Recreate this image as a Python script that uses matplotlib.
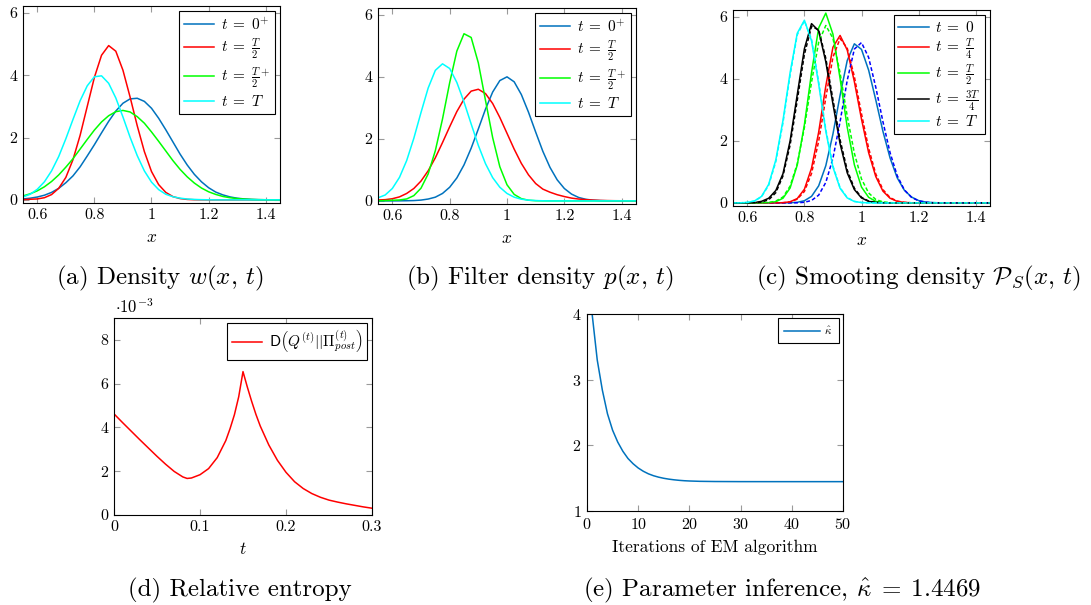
import matplotlib
matplotlib.use("Agg")
import matplotlib.pyplot as plt

plt.rcParams.update({
    "font.family": "serif",
    "font.serif": ["cmr10"],
    "mathtext.fontset": "cm",
    "axes.formatter.use_mathtext": True,
    "axes.unicode_minus": False,
})

# ------------------------------------------------------------------
# data
# ------------------------------------------------------------------
x_grid = [0.550, 0.575, 0.600, 0.625, 0.650, 0.675, 0.700, 0.725, 0.750, 0.775,
          0.800, 0.825, 0.850, 0.875, 0.900, 0.925, 0.950, 0.975, 1.000, 1.025,
          1.050, 1.075, 1.100, 1.125, 1.150, 1.175, 1.200, 1.225, 1.250, 1.275,
          1.300, 1.325, 1.350, 1.375, 1.400, 1.425, 1.450]

# (a) density w(x,t)
w_0plus = [0.03, 0.054, 0.092, 0.15, 0.24, 0.37, 0.55, 0.77, 1.06, 1.41, 1.77, 2.15,
           2.52, 2.85, 3.10, 3.24, 3.26, 3.16, 2.94, 2.62, 2.25, 1.86, 1.47, 1.12,
           0.82, 0.58, 0.39, 0.25, 0.16, 0.095, 0.054, 0.03, 0.016, 0.008, 0.004,
           0.002, 0.001]
w_half = [0.01, 0.02, 0.03, 0.07, 0.17, 0.37, 0.72, 1.29, 2.07, 3.00, 3.93, 4.64,
          4.95, 4.77, 4.16, 3.30, 2.38, 1.55, 0.91, 0.49, 0.24, 0.105, 0.042, 0.015,
          0.005, 0.002, 0, 0, 0, 0, 0, 0, 0, 0, 0, 0, 0]
w_half_plus = [0.126, 0.195, 0.29, 0.42, 0.59, 0.80, 1.05, 1.32, 1.63, 1.94, 2.24,
               2.50, 2.70, 2.83, 2.87, 2.82, 2.67, 2.46, 2.18, 1.88, 1.57, 1.26, 0.98,
               0.74, 0.54, 0.38, 0.26, 0.175, 0.11, 0.069, 0.042, 0.024, 0.013, 0.007,
               0.004, 0.002, 0.001]
w_T = [0.094, 0.18, 0.34, 0.58, 0.93, 1.39, 1.96, 2.58, 3.18, 3.66, 3.95, 3.98, 3.74,
       3.27, 2.66, 2.01, 1.42, 0.93, 0.57, 0.33, 0.18, 0.10, 0.055, 0.028, 0.014,
       0.007, 0.003, 0, 0, 0, 0, 0, 0, 0, 0, 0, 0]

# (b) filter density p(x,t)
p_0plus = [0, 0, 0, 0.002, 0.005, 0.011, 0.026, 0.06, 0.12, 0.24, 0.44, 0.74, 1.16,
           1.70, 2.32, 2.96, 3.51, 3.88, 4.00, 3.84, 3.43, 2.86, 2.22, 1.60, 1.08,
           0.68, 0.40, 0.22, 0.11, 0.052, 0.023, 0.01, 0.004, 0.002, 0, 0, 0]
p_half = [0.03, 0.04, 0.07, 0.13, 0.24, 0.40, 0.64, 0.97, 1.39, 1.88, 2.39, 2.88,
          3.28, 3.54, 3.60, 3.46, 3.14, 2.69, 2.18, 1.67, 1.21, 0.84, 0.56, 0.38,
          0.28, 0.20, 0.14, 0.09, 0.06, 0.04, 0.025, 0.015, 0.01, 0.006, 0.004,
          0.002, 0.001]
p_half_plus = [0.005, 0.01, 0.02, 0.03, 0.063, 0.17, 0.41, 0.87, 1.62, 2.64, 3.81,
               4.83, 5.39, 5.27, 4.45, 3.24, 2.04, 1.10, 0.52, 0.21, 0.073, 0.022,
               0.006, 0.002, 0, 0, 0, 0, 0, 0, 0, 0, 0, 0, 0, 0, 0]
p_T = [0.10, 0.19, 0.40, 0.76, 1.30, 2.02, 2.85, 3.64, 4.21, 4.42, 4.27, 3.82, 3.19,
       2.48, 1.79, 1.20, 0.75, 0.44, 0.24, 0.12, 0.055, 0.024, 0.01, 0.004, 0, 0, 0,
       0, 0, 0, 0, 0, 0, 0, 0, 0, 0]

# (c) smoothing density, solid and dashed
s_0 = [0, 0, 0, 0, 0, 0, 0, 0.001, 0.005, 0.019, 0.07, 0.21, 0.55, 1.20, 2.22, 3.47,
       4.59, 5.13, 4.95, 4.28, 3.32, 2.31, 1.45, 0.81, 0.41, 0.19, 0.075, 0.027,
       0.009, 0.003, 0, 0, 0, 0, 0, 0, 0]
s_T4 = [0, 0, 0, 0, 0, 0, 0.001, 0.007, 0.036, 0.14, 0.44, 1.12, 2.28, 3.77, 5.02,
        5.40, 4.93, 3.91, 2.70, 1.62, 0.85, 0.38, 0.15, 0.05, 0.016, 0.004, 0, 0, 0,
        0, 0, 0, 0, 0, 0, 0, 0]
s_T2 = [0, 0, 0, 0, 0.001, 0.008, 0.039, 0.15, 0.48, 1.22, 2.52, 4.20, 5.64, 6.12,
        5.44, 4.01, 2.44, 1.23, 0.51, 0.18, 0.05, 0.012, 0.002, 0, 0, 0, 0, 0, 0, 0,
        0, 0, 0, 0, 0, 0, 0]
s_3T4 = [0, 0, 0.001, 0.006, 0.05, 0.15, 0.40, 0.94, 2.00, 3.49, 4.97, 5.78, 5.55,
         4.55, 3.19, 1.91, 0.97, 0.43, 0.16, 0.05, 0.014, 0.003, 0, 0, 0, 0, 0, 0,
         0, 0, 0, 0, 0, 0, 0, 0, 0]
s_T = [0, 0.003, 0.015, 0.062, 0.21, 0.60, 1.39, 2.66, 4.20, 5.47, 5.89, 5.23, 3.83,
       2.31, 1.15, 0.47, 0.16, 0.045, 0.011, 0.002, 0, 0, 0, 0, 0, 0, 0, 0, 0, 0, 0,
       0, 0, 0, 0, 0, 0]

d_0 = [0, 0, 0, 0, 0, 0, 0, 0, 0, 0.004, 0.02, 0.078, 0.25, 0.66, 1.44, 2.62, 3.95,
       4.96, 5.17, 4.69, 3.73, 2.62, 1.62, 0.88, 0.42, 0.18, 0.066, 0.021, 0.006,
       0.002, 0, 0, 0, 0, 0, 0, 0]
d_T4 = [0, 0, 0, 0, 0, 0, 0.001, 0.006, 0.03, 0.12, 0.37, 0.95, 1.99, 3.39, 4.70,
        5.30, 4.99, 4.07, 2.87, 1.76, 0.93, 0.43, 0.17, 0.058, 0.017, 0.004, 0, 0, 0,
        0, 0, 0, 0, 0, 0, 0, 0]
d_T2 = [0, 0, 0, 0, 0.003, 0.014, 0.058, 0.19, 0.54, 1.26, 2.43, 3.89, 5.18, 5.72,
        5.31, 4.19, 2.80, 1.60, 0.77, 0.32, 0.11, 0.033, 0.008, 0.002, 0, 0, 0, 0, 0,
        0, 0, 0, 0, 0, 0, 0, 0]
d_3T4 = [0, 0, 0.001, 0.005, 0.026, 0.10, 0.33, 0.87, 1.87, 3.31, 4.79, 5.69, 5.58,
         4.66, 3.33, 2.03, 1.06, 0.47, 0.18, 0.058, 0.016, 0.004, 0, 0, 0, 0, 0, 0,
         0, 0, 0, 0, 0, 0, 0, 0, 0]
d_T = [0, 0.003, 0.014, 0.058, 0.20, 0.57, 1.33, 2.58, 4.12, 5.42, 5.87, 5.27, 3.90,
       2.37, 1.19, 0.49, 0.17, 0.05, 0.012, 0.003, 0, 0, 0, 0, 0, 0, 0, 0, 0, 0, 0,
       0, 0, 0, 0, 0, 0]

# (d) relative entropy, in units of 1e-3
t_vals = [0.00, 0.01, 0.02, 0.03, 0.04, 0.05, 0.06, 0.07, 0.08, 0.085, 0.09, 0.10,
          0.11, 0.12, 0.13, 0.135, 0.14, 0.145, 0.15, 0.155, 0.16, 0.165, 0.17, 0.18,
          0.19, 0.20, 0.21, 0.22, 0.23, 0.24, 0.25, 0.26, 0.27, 0.28, 0.29, 0.30]
rel_entropy_e3 = [4.62, 4.22, 3.83, 3.44, 3.06, 2.68, 2.32, 1.99, 1.74, 1.67, 1.69,
                  1.84, 2.12, 2.62, 3.40, 3.95, 4.58, 5.40, 6.55, 5.85, 5.20, 4.60,
                  4.07, 3.20, 2.50, 1.95, 1.52, 1.21, 0.98, 0.81, 0.68, 0.59, 0.51,
                  0.44, 0.37, 0.31]

# (e) EM iterations of kappa-hat
em_iter = [1, 2, 3, 4, 5, 6, 7, 8, 9, 10, 11, 12, 13, 14, 15, 16, 17, 18, 19, 20,
           22, 25, 30, 35, 40, 45, 50]
kappa_hat = [4.0, 3.3, 2.84, 2.48, 2.23, 2.05, 1.91, 1.80, 1.72, 1.655, 1.605, 1.566,
             1.537, 1.515, 1.498, 1.485, 1.475, 1.467, 1.461, 1.457, 1.452, 1.449,
             1.4473, 1.4470, 1.4469, 1.4469, 1.4469]

# ------------------------------------------------------------------
BLUE = "#0072BD"
RED = "#FF0000"
GREEN = "#00FF00"
CYAN = "#00FFFF"
LW = 1.1

W, H = 1091, 605


def rect(left, top, right, bottom):
    return [left / W, 1 - bottom / H, (right - left) / W, (bottom - top) / H]


def style(ax):
    ax.tick_params(direction="in", which="both", top=True, right=True, length=4,
                   width=0.8, color="#9a9a9a", labelsize=11.5, pad=4)
    for s in ax.spines.values():
        s.set_linewidth(0.8)
        s.set_color("black")


def legend(ax, size=11, hl=2.0, spacing=0.25, pad=0.35):
    leg = ax.legend(loc="upper right", fontsize=size, frameon=True, fancybox=False,
                    edgecolor="black", framealpha=1, handlelength=hl,
                    borderaxespad=0.35, labelspacing=spacing, borderpad=pad,
                    handletextpad=0.4)
    leg.get_frame().set_linewidth(0.8)
    return leg


def density_axes(ax):
    ax.set_xlim(0.55, 1.45)
    ax.set_ylim(-0.1, 6.22)
    ax.set_xticks([0.6, 0.8, 1.0, 1.2, 1.4])
    ax.set_xticklabels(["0.6", "0.8", "1", "1.2", "1.4"])
    ax.set_yticks([0, 2, 4, 6])
    ax.set_yticklabels(["0", "2", "4", "6"])
    ax.set_xlabel(r"$x$", fontsize=12.5, labelpad=5)
    style(ax)


fig = plt.figure(figsize=(W / 100, H / 100), dpi=100)

# (a)
ax_a = fig.add_axes(rect(23, 6, 280, 203))
ax_a.plot(x_grid, w_0plus, color=BLUE, lw=LW, label=r"$t\;=\;0^{+}$")
ax_a.plot(x_grid, w_half, color=RED, lw=LW, label=r"$t\;=\;\frac{T}{2}$")
ax_a.plot(x_grid, w_half_plus, color=GREEN, lw=LW, label=r"$t\;=\;\frac{T}{2}^{+}$")
ax_a.plot(x_grid, w_T, color=CYAN, lw=LW, label=r"$t\;=\;T$")
density_axes(ax_a)
legend(ax_a)

# (b)
ax_b = fig.add_axes(rect(378, 8, 636, 204))
ax_b.plot(x_grid, p_0plus, color=BLUE, lw=LW, label=r"$t\;=\;0^{+}$")
ax_b.plot(x_grid, p_half, color=RED, lw=LW, label=r"$t\;=\;\frac{T}{2}$")
ax_b.plot(x_grid, p_half_plus, color=GREEN, lw=LW, label=r"$t\;=\;\frac{T}{2}^{+}$")
ax_b.plot(x_grid, p_T, color=CYAN, lw=LW, label=r"$t\;=\;T$")
density_axes(ax_b)
legend(ax_b)

# (c)
ax_c = fig.add_axes(rect(733, 10, 990, 206))
ax_c.plot(x_grid, s_0, color=BLUE, lw=LW, label=r"$t\;=\;0$")
ax_c.plot(x_grid, s_T4, color=RED, lw=LW, label=r"$t\;=\;\frac{T}{4}$")
ax_c.plot(x_grid, s_T2, color=GREEN, lw=LW, label=r"$t\;=\;\frac{T}{2}$")
ax_c.plot(x_grid, s_3T4, color="black", lw=LW, label=r"$t\;=\;\frac{3T}{4}$")
ax_c.plot(x_grid, s_T, color=CYAN, lw=LW, label=r"$t\;=\;T$")
dash = (0, (2.5, 1.5))
ax_c.plot(x_grid, d_0, color="#0000FF", lw=LW, ls=dash)
ax_c.plot(x_grid, d_T4, color=RED, lw=LW, ls=dash)
ax_c.plot(x_grid, d_T2, color=GREEN, lw=LW, ls=dash)
ax_c.plot(x_grid, d_3T4, color="black", lw=LW, ls=dash)
ax_c.plot(x_grid, d_T, color=CYAN, lw=LW, ls=dash)
density_axes(ax_c)
legend(ax_c, spacing=0.08, pad=0.3)

# (d)
ax_d = fig.add_axes(rect(114, 318, 372, 515))
ax_d.plot(t_vals, rel_entropy_e3, color=RED, lw=LW,
          label=r"$\mathsf{D}\left(Q^{(t)}||\Pi^{(t)}_{post}\right)$")
ax_d.set_xlim(0, 0.3)
ax_d.set_ylim(0, 9)
ax_d.set_xticks([0, 0.1, 0.2, 0.3])
ax_d.set_xticklabels(["0", "0.1", "0.2", "0.3"])
ax_d.set_yticks([0, 2, 4, 6, 8])
ax_d.set_yticklabels(["0", "2", "4", "6", "8"])
ax_d.set_xlabel(r"$t$", fontsize=12.5, labelpad=5)
style(ax_d)
legend(ax_d, size=11, pad=0.3)
fig.text(115 / W, 1 - 307 / H, r"$\cdot 10^{-3}$", fontsize=12, ha="left", va="center")

# (e)
ax_e = fig.add_axes(rect(587, 314, 843, 511))
ax_e.plot(em_iter, kappa_hat, color=BLUE, lw=LW, label=r"$\hat{\kappa}$")
ax_e.set_xlim(0, 50)
ax_e.set_ylim(1, 4)
ax_e.set_xticks([0, 10, 20, 30, 40, 50])
ax_e.set_yticks([1, 2, 3, 4])
ax_e.set_xlabel("Iterations of EM algorithm", fontsize=12.5, labelpad=6)
style(ax_e)
legend(ax_e, size=8, hl=3.2, pad=0.6)

# captions
cap = 18
fig.text(160 / W, 1 - 278 / H, r"(a) Density $w(x,\,t)$", fontsize=cap, ha="center", va="center")
fig.text(540 / W, 1 - 278 / H, r"(b) Filter density $p(x,\,t)$", fontsize=cap, ha="center", va="center")
fig.text(918 / W, 1 - 278 / H, r"(c) Smooting density $\mathcal{P}_S(x,\,t)$", fontsize=cap,
         ha="center", va="center")
fig.text(240 / W, 1 - 590 / H, "(d) Relative entropy", fontsize=cap, ha="center", va="center")
fig.text(782 / W, 1 - 590 / H, r"(e) Parameter inference, $\hat{\kappa}\;=\;1.4469$", fontsize=cap,
         ha="center", va="center")

fig.savefig("out.png", dpi=100)
